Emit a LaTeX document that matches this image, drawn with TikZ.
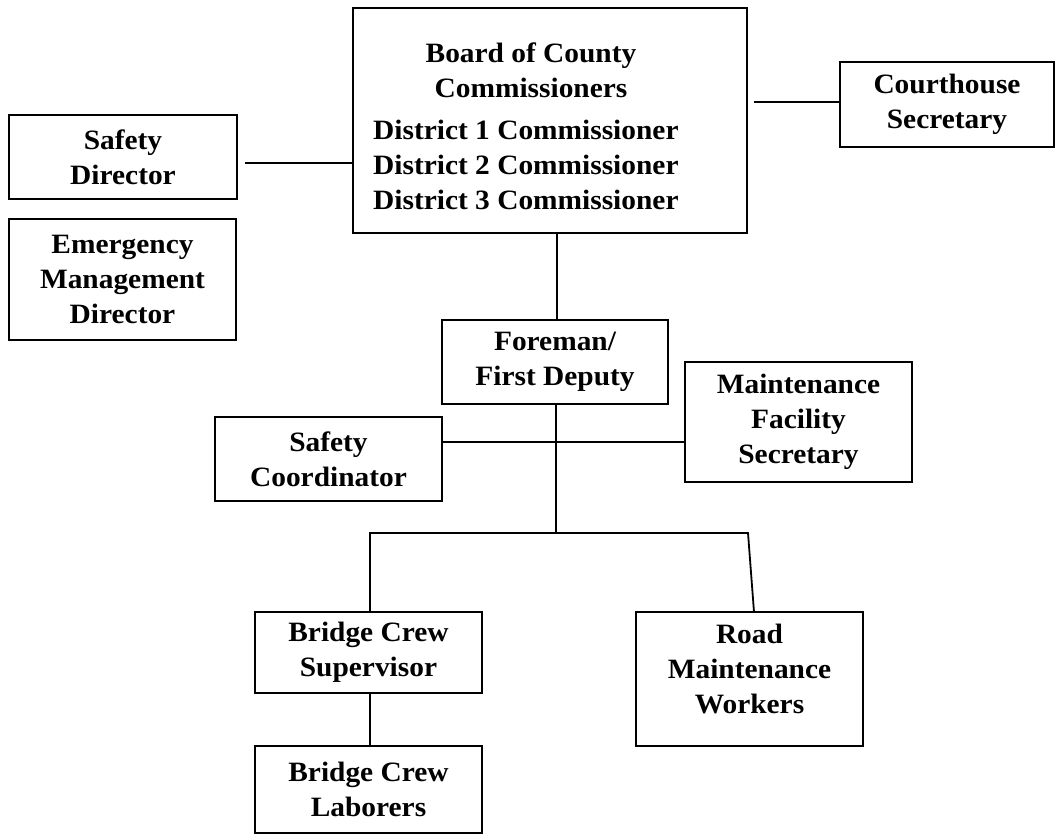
\documentclass[tikz,border=0pt]{standalone}
\usepackage{fontspec}
\setmainfont{Liberation Serif}[FakeStretch=1.05]
\begin{document}
\begin{tikzpicture}[x=1pt,y=-1pt,
  box/.style={draw=black,line width=2.6pt,rectangle,inner sep=0pt,align=center,
     font=\fontsize{28}{35}\selectfont\bfseries},
  txt/.style={inner sep=0pt,font=\fontsize{28}{35}\selectfont\bfseries},
  conn/.style={draw=black,line width=2.4pt},
  thin/.style={draw=black,line width=1.8pt}]
\useasboundingbox (0,0) rectangle (1057,835);
% boxes
\node[box,minimum width=394pt,minimum height=225pt] (board) at (550,120.5) {};
\node[txt,align=center] (btitle) at (531,70) {Board of County\\Commissioners};
\node[txt,align=left,anchor=west] (bdist) at (373,165) {District 1 Commissioner\\District 2 Commissioner\\District 3 Commissioner};
\node[box,minimum width=214pt,minimum height=85pt] (court) at (947,104.5) {Courthouse\\Secretary};
\node[box,minimum width=228pt,minimum height=84pt] (sdir) at (123,157) {Safety\\Director};
\node[box,minimum width=227pt,minimum height=121pt] (emd) at (122.5,279.5) {Emergency\\Management\\Director};
\node[box,minimum width=226pt,minimum height=84pt,line width=2.4pt] (fore) at (555,362) {Foreman/\\First Deputy};
\node[box,minimum width=227pt,minimum height=84pt,line width=2.4pt] (scoord) at (328.5,459) {Safety\\Coordinator};
\node[box,minimum width=227pt,minimum height=120pt,line width=2.4pt] (mfs) at (798.5,422) {Maintenance\\Facility\\Secretary};
\node[box,minimum width=227pt,minimum height=81pt,line width=2.4pt] (bcs) at (368.5,652.5) {Bridge Crew\\Supervisor};
\node[box,minimum width=227pt,minimum height=87pt,line width=2.4pt] (bcl) at (368.5,789.5) {Bridge Crew\\Laborers};
\node[box,minimum width=227pt,minimum height=134pt,line width=2.4pt,text depth=20pt] (road) at (749.5,679) {Road\\Maintenance\\Workers};
% connector helper coordinates
\coordinate (sdl) at (245,163);
\coordinate (crl) at (754,102);
\coordinate (bl) at (557,233);
\coordinate (jmid) at (556,533);
\coordinate (jl) at (370,533);
\coordinate (jr) at (748,533);
\coordinate (rtop) at (754,612);
% connectors
\draw[conn] (sdl) -- (board.west |- sdl);
\draw[conn] (crl) -- (court.west |- crl);
\draw[conn] (bl) -- (bl |- fore.north);
\draw[thin] (fore.south -| jmid) -- (jmid);
\draw[thin] (scoord.east |- 0,442) -- (mfs.west |- 0,442);
\draw[thin] (bcs.north -| jl) -- (jl) -- (jr) -- (rtop);
\draw[thin] (bcs.south -| jl) -- (bcl.north -| jl);
\end{tikzpicture}
\end{document}
